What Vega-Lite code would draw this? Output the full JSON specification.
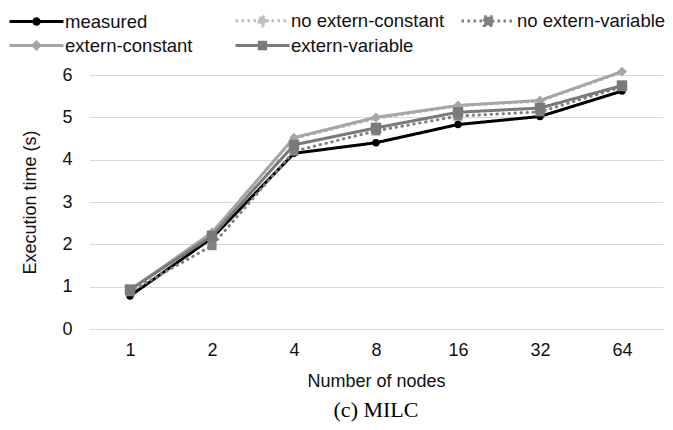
{
  "$schema": "https://vega.github.io/schema/vega-lite/v6.json",
  "width": 574,
  "height": 254,
  "autosize": {"type": "none"},
  "padding": {"left": 89, "top": 75, "right": 10, "bottom": 101},
  "background": "white",
  "title": {
    "text": "(c) MILC",
    "orient": "bottom",
    "anchor": "middle",
    "font": "Liberation Serif",
    "fontSize": 22,
    "fontWeight": "normal",
    "color": "#000000",
    "offset": 10
  },
  "config": {
    "font": "Liberation Sans",
    "view": {"stroke": null},
    "axis": {
      "labelFont": "Liberation Sans",
      "titleFont": "Liberation Sans",
      "labelFontSize": 18,
      "titleFontSize": 18,
      "titleFontWeight": "normal",
      "labelColor": "#111111",
      "titleColor": "#111111"
    },
    "legend": {
      "labelFont": "Liberation Sans",
      "labelFontSize": 18.5,
      "labelColor": "#111111",
      "title": null,
      "orient": "none",
      "legendX": -63,
      "legendY": -65,
      "direction": "horizontal",
      "columns": 3,
      "gridAlign": "all",
      "columnPadding": 10,
      "rowPadding": 3,
      "symbolSize": 324,
      "symbolStrokeWidth": 3,
      "labelOffset": 18
    }
  },
  "data": {
    "values": [
      {"nodes": 1, "series": "measured", "time": 0.78},
      {"nodes": 2, "series": "measured", "time": 2.15},
      {"nodes": 4, "series": "measured", "time": 4.15},
      {"nodes": 8, "series": "measured", "time": 4.4},
      {"nodes": 16, "series": "measured", "time": 4.83},
      {"nodes": 32, "series": "measured", "time": 5.02},
      {"nodes": 64, "series": "measured", "time": 5.62},
      {"nodes": 1, "series": "no extern-constant", "time": 0.9},
      {"nodes": 2, "series": "no extern-constant", "time": 2.27},
      {"nodes": 4, "series": "no extern-constant", "time": 4.5},
      {"nodes": 8, "series": "no extern-constant", "time": 4.97},
      {"nodes": 16, "series": "no extern-constant", "time": 5.27},
      {"nodes": 32, "series": "no extern-constant", "time": 5.38},
      {"nodes": 64, "series": "no extern-constant", "time": 6.07},
      {"nodes": 1, "series": "no extern-variable", "time": 0.88},
      {"nodes": 2, "series": "no extern-variable", "time": 1.97},
      {"nodes": 4, "series": "no extern-variable", "time": 4.2},
      {"nodes": 8, "series": "no extern-variable", "time": 4.68},
      {"nodes": 16, "series": "no extern-variable", "time": 5.03},
      {"nodes": 32, "series": "no extern-variable", "time": 5.13},
      {"nodes": 64, "series": "no extern-variable", "time": 5.72},
      {"nodes": 1, "series": "extern-constant", "time": 0.92},
      {"nodes": 2, "series": "extern-constant", "time": 2.28},
      {"nodes": 4, "series": "extern-constant", "time": 4.52},
      {"nodes": 8, "series": "extern-constant", "time": 5.0},
      {"nodes": 16, "series": "extern-constant", "time": 5.28},
      {"nodes": 32, "series": "extern-constant", "time": 5.4},
      {"nodes": 64, "series": "extern-constant", "time": 6.08},
      {"nodes": 1, "series": "extern-variable", "time": 0.93},
      {"nodes": 2, "series": "extern-variable", "time": 2.2},
      {"nodes": 4, "series": "extern-variable", "time": 4.35},
      {"nodes": 8, "series": "extern-variable", "time": 4.75},
      {"nodes": 16, "series": "extern-variable", "time": 5.12},
      {"nodes": 32, "series": "extern-variable", "time": 5.22},
      {"nodes": 64, "series": "extern-variable", "time": 5.75}
    ]
  },
  "encoding": {
    "x": {
      "field": "nodes",
      "type": "ordinal",
      "sort": [1, 2, 4, 8, 16, 32, 64],
      "scale": {"type": "point", "padding": 0.5},
      "axis": {
        "title": "Number of nodes",
        "labelAngle": 0,
        "domain": false,
        "ticks": false,
        "grid": false,
        "labelPadding": 12,
        "titlePadding": 13
      }
    },
    "y": {
      "field": "time",
      "type": "quantitative",
      "scale": {"domain": [0, 6], "nice": false},
      "axis": {
        "title": "Execution time (s)",
        "values": [0, 1, 2, 3, 4, 5, 6],
        "domain": false,
        "ticks": false,
        "grid": true,
        "gridColor": "#d9d9d9",
        "gridWidth": 1,
        "labelPadding": 17,
        "titlePadding": 22
      }
    }
  },
  "resolve": {"scale": {"shape": "independent", "strokeDash": "independent", "fill": "independent", "stroke": "independent"}},
  "layer": [
    {
      "mark": {"type": "line", "strokeWidth": 3, "strokeCap": "round", "strokeJoin": "round"},
      "encoding": {
        "color": {
          "field": "series",
          "type": "nominal",
          "scale": {
            "domain": ["measured", "no extern-constant", "no extern-variable", "extern-constant", "extern-variable"],
            "range": ["#000000", "#bfbfbf", "#808080", "#a6a6a6", "#7a7a7a"]
          },
          "legend": null
        },
        "strokeDash": {
          "field": "series",
          "type": "nominal",
          "scale": {
            "domain": ["measured", "no extern-constant", "no extern-variable", "extern-constant", "extern-variable"],
            "range": [[1, 0], [0.5, 5.5], [0.5, 5.5], [1, 0], [1, 0]]
          },
          "legend": null
        }
      }
    },
    {
      "mark": {"type": "point", "filled": true, "opacity": 1},
      "encoding": {
        "color": {
          "field": "series",
          "type": "nominal",
          "scale": {
            "domain": ["measured", "no extern-constant", "no extern-variable", "extern-constant", "extern-variable"],
            "range": ["#000000", "#bfbfbf", "#808080", "#a6a6a6", "#7a7a7a"]
          },
          "legend": null
        },
        "shape": {
          "field": "series",
          "type": "nominal",
          "scale": {
            "domain": ["measured", "no extern-constant", "no extern-variable", "extern-constant", "extern-variable"],
            "range": ["circle", "diamond", "square", "diamond", "square"]
          },
          "legend": null
        },
        "size": {
          "field": "series",
          "type": "nominal",
          "scale": {
            "domain": ["measured", "no extern-constant", "no extern-variable", "extern-constant", "extern-variable"],
            "range": [55, 110, 90, 110, 90]
          },
          "legend": null
        }
      }
    },
    {
      "transform": [{"filter": "false"}],
      "mark": {"type": "point", "size": 324, "strokeWidth": 3, "opacity": 1, "fillOpacity": 1, "strokeOpacity": 1},
      "encoding": {
        "fill": {
          "field": "series",
          "type": "nominal",
          "scale": {
            "domain": ["measured", "no extern-constant", "no extern-variable", "extern-constant", "extern-variable"],
            "range": ["#000000", "#bfbfbf", "#808080", "#a6a6a6", "#7a7a7a"]
          }
        },
        "stroke": {
          "field": "series",
          "type": "nominal",
          "scale": {
            "domain": ["measured", "no extern-constant", "no extern-variable", "extern-constant", "extern-variable"],
            "range": ["#000000", "#bfbfbf", "#808080", "#a6a6a6", "#7a7a7a"]
          }
        },
        "shape": {
          "field": "series",
          "type": "nominal",
          "scale": {
            "domain": ["measured", "no extern-constant", "no extern-variable", "extern-constant", "extern-variable"],
            "range": [
              "M-3,0H3M-0.3,0A0.3,0.3 0 1,0 0.3,0A0.3,0.3 0 1,0 -0.3,0Z",
              "M-3,0H3M0,-0.56L0.56,0L0,0.56L-0.56,0Z",
              "M-3,0H3M-0.48,-0.48H0.48V0.48H-0.48Z",
              "M-3,0H3M0,-0.38L0.38,0L0,0.38L-0.38,0Z",
              "M-3,0H3M-0.35,-0.35H0.35V0.35H-0.35Z"
            ]
          }
        },
        "strokeDash": {
          "field": "series",
          "type": "nominal",
          "scale": {
            "domain": ["measured", "no extern-constant", "no extern-variable", "extern-constant", "extern-variable"],
            "range": [[1, 0], [2.5, 3.5], [2.5, 3.5], [1, 0], [1, 0]]
          }
        }
      }
    }
  ]
}
